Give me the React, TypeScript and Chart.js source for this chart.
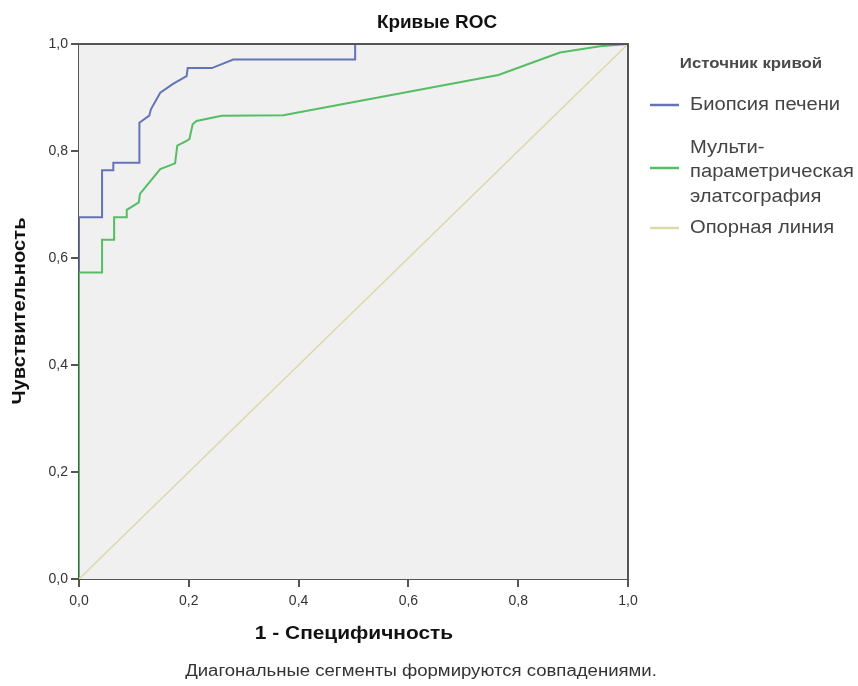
import React, { useEffect, useRef } from "react";
import { Chart, registerables } from "chart.js";

Chart.register(...registerables);

const TITLE = "Кривые ROC";
const X_TITLE = "1 - Специфичность";
const Y_TITLE = "Чувствительность";
const FOOTNOTE = "Диагональные сегменты формируются совпадениями.";
const LEGEND_TITLE = "Источник кривой";

const SERIES_LABELS = ["Биопсия печени", "Мульти-параметрическая элатсография", "Опорная линия"];
const LEGEND_LINES = [["Биопсия печени"], ["Мульти-", "параметрическая", "элатсография"], ["Опорная линия"]];
const SERIES_COLORS = ["#6474b6", "#55bd64", "#dcd9a8"];

const TICKS = [0, 0.2, 0.4, 0.6, 0.8, 1.0];

// Биопсия печени: 1 - специфичность
const biopsyX = [0, 0, 0.042, 0.042, 0.0625, 0.0625, 0.11, 0.11, 0.128, 0.131, 0.148, 0.172, 0.196, 0.198, 0.242, 0.281, 0.503, 0.503, 1.0];
// Биопсия печени: чувствительность
const biopsyY = [0, 0.676, 0.676, 0.764, 0.764, 0.778, 0.778, 0.853, 0.866, 0.878, 0.909, 0.926, 0.94, 0.955, 0.955, 0.971, 0.971, 1.0, 1.0];

// Мультипараметрическая эластография
const mpeX = [0, 0, 0.042, 0.042, 0.064, 0.064, 0.087, 0.087, 0.109, 0.111, 0.148, 0.175, 0.179, 0.196, 0.201, 0.207, 0.214, 0.26, 0.372, 0.764, 0.876, 0.949, 1.0];
const mpeY = [0, 0.573, 0.573, 0.634, 0.634, 0.676, 0.676, 0.69, 0.704, 0.72, 0.766, 0.777, 0.81, 0.819, 0.822, 0.85, 0.856, 0.866, 0.867, 0.942, 0.984, 0.996, 1.0];

// Опорная линия
const refX = [0, 1];
const refY = [0, 1];

const toPoints = (xs: number[], ys: number[]) => xs.map((x, i) => ({ x, y: ys[i] }));

const FONT = "'Liberation Sans', Arial, sans-serif";

function drawText(ctx: any, text: string, x: number, y: number, font: string, sx: number, align: string, rot = 0) {
  ctx.save();
  ctx.translate(x, y);
  if (rot) ctx.rotate(rot);
  ctx.scale(sx, 1);
  ctx.font = font;
  ctx.textAlign = align;
  ctx.textBaseline = "middle";
  ctx.fillText(text, 0, 0);
  ctx.restore();
}

const decorPlugin = {
  id: "decor",
  beforeDatasetsDraw(chart: any) {
    const { ctx, chartArea } = chart;
    ctx.save();
    ctx.fillStyle = "#f0f0f0";
    ctx.fillRect(chartArea.left, chartArea.top, chartArea.right - chartArea.left, chartArea.bottom - chartArea.top);
    ctx.restore();
  },
  afterDraw(chart: any) {
    const { ctx, chartArea } = chart;
    const { left, right, top, bottom } = chartArea;
    ctx.save();
    ctx.strokeStyle = "#555555";
    ctx.lineWidth = 2;
    ctx.beginPath();
    ctx.moveTo(left, top);
    ctx.lineTo(right, top);
    ctx.lineTo(right, bottom);
    ctx.stroke();

    ctx.fillStyle = "#111111";
    drawText(ctx, TITLE, 437, 23, `bold 18px ${FONT}`, 1.05, "center");
    drawText(ctx, X_TITLE, 354, 634, `bold 19px ${FONT}`, 1.1, "center");
    drawText(ctx, Y_TITLE, 20, 311, `bold 18px ${FONT}`, 1.12, "center", -Math.PI / 2);

    ctx.fillStyle = "#333333";
    drawText(ctx, FOOTNOTE, 421, 672, `16px ${FONT}`, 1.16, "center");

    ctx.fillStyle = "#4a4a4a";
    drawText(ctx, LEGEND_TITLE, 751, 64, `bold 14px ${FONT}`, 1.2, "center");

    const sampleY = [105, 168, 228];
    const textY = [[105], [148, 172.5, 197], [228]];
    LEGEND_LINES.forEach((lines, i) => {
      ctx.strokeStyle = SERIES_COLORS[i];
      ctx.lineWidth = 2.5;
      ctx.beginPath();
      ctx.moveTo(650, sampleY[i]);
      ctx.lineTo(679, sampleY[i]);
      ctx.stroke();
      ctx.fillStyle = "#444444";
      lines.forEach((t, j) => drawText(ctx, t, 690, textY[i][j], `18px ${FONT}`, 1.12, "left"));
    });
    ctx.restore();
  },
};

export default function App() {
  const ref = useRef<HTMLCanvasElement | null>(null);
  useEffect(() => {
    if (!ref.current) return;
    const fmt = (v: any) => Number(v).toFixed(1).replace(".", ",");
    const chart = new Chart(ref.current, {
      type: "scatter",
      data: {
        datasets: [
          { label: SERIES_LABELS[2], data: toPoints(refX, refY), borderColor: SERIES_COLORS[2], borderWidth: 1.5, showLine: true, pointRadius: 0, tension: 0 },
          { label: SERIES_LABELS[1], data: toPoints(mpeX, mpeY), borderColor: SERIES_COLORS[1], borderWidth: 2, showLine: true, pointRadius: 0, tension: 0 },
          { label: SERIES_LABELS[0], data: toPoints(biopsyX, biopsyY), borderColor: SERIES_COLORS[0], borderWidth: 2, showLine: true, pointRadius: 0, tension: 0 },
        ],
      },
      options: {
        responsive: false,
        animation: false,
        layout: { padding: { top: 44, right: 230, bottom: 0, left: 0 } },
        plugins: { legend: { display: false }, title: { display: false }, tooltip: { enabled: false } },
        scales: {
          x: {
            type: "linear",
            min: 0,
            max: 1,
            afterFit: (s: any) => { s.height = 107; },
            afterBuildTicks: (s: any) => { s.ticks = TICKS.map((v) => ({ value: v })); },
            ticks: { callback: fmt, color: "#333333", font: { size: 14, family: FONT }, padding: 6, maxRotation: 0 },
            grid: { drawOnChartArea: false, drawTicks: true, tickLength: 8, color: "#555555", lineWidth: 2 },
            border: { display: true, color: "#555555", width: 2 },
          },
          y: {
            type: "linear",
            min: 0,
            max: 1,
            afterFit: (s: any) => { s.width = 79; },
            afterBuildTicks: (s: any) => { s.ticks = TICKS.map((v) => ({ value: v })); },
            ticks: { callback: fmt, color: "#333333", font: { size: 14, family: FONT }, padding: 3 },
            grid: { drawOnChartArea: false, drawTicks: true, tickLength: 8, color: "#555555", lineWidth: 2 },
            border: { display: true, color: "#555555", width: 2 },
          },
        },
      },
      plugins: [decorPlugin],
    } as any);
    return () => chart.destroy();
  }, []);
  return (
    <div style={{ position: "fixed", left: 0, top: 0, width: 858, height: 686, background: "#ffffff" }}>
      <canvas ref={ref} width={858} height={686} style={{ display: "block" }} />
    </div>
  );
}
